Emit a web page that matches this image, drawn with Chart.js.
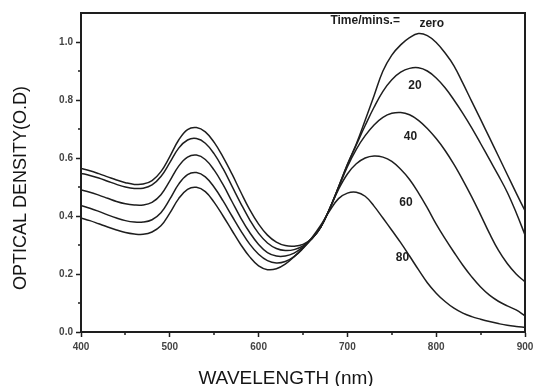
<!DOCTYPE html>
<html>
<head>
<meta charset="utf-8">
<script src="https://cdn.jsdelivr.net/npm/chart.js@4.4.1/dist/chart.umd.min.js"></script>
<style>
    html, body { margin: 0; padding: 0; background: #fff; }
</style>
</head>
<body>
<canvas id="graficoOD" width="535" height="386"></canvas>
<script>
// Longitudes de onda (nm)
var wavelengths = [400, 410, 420, 430, 440, 450, 460, 470, 480, 490,
                   500, 510, 520, 530, 540, 550, 560, 570, 580, 590,
                   600, 610, 620, 630, 640, 650, 660, 670, 680, 690,
                   700, 710, 720, 730, 740, 750, 760, 770, 780, 790,
                   800, 810, 820, 830, 840, 850, 860, 870, 880, 890, 900];

// Densidad óptica por tiempo (min)
var odZero = [0.564, 0.556, 0.546, 0.535, 0.524, 0.515, 0.509, 0.510, 0.522, 0.553,
              0.605, 0.662, 0.698, 0.705, 0.690, 0.654, 0.603, 0.545, 0.482, 0.422,
              0.372, 0.334, 0.310, 0.298, 0.296, 0.302, 0.322, 0.362, 0.425, 0.500,
              0.578, 0.648, 0.730, 0.815, 0.900, 0.955, 0.990, 1.015, 1.029, 1.022,
              0.998, 0.962, 0.918, 0.858, 0.795, 0.733, 0.670, 0.607, 0.543, 0.480, 0.418];
var od20 = [0.547, 0.540, 0.531, 0.520, 0.509, 0.500, 0.495, 0.496, 0.507, 0.536,
            0.584, 0.634, 0.662, 0.667, 0.651, 0.614, 0.563, 0.503, 0.443, 0.387,
            0.340, 0.307, 0.288, 0.281, 0.284, 0.297, 0.322, 0.362, 0.425, 0.500,
            0.577, 0.645, 0.712, 0.775, 0.830, 0.870, 0.896, 0.909, 0.911, 0.900,
            0.876, 0.842, 0.800, 0.754, 0.704, 0.650, 0.595, 0.540, 0.482, 0.412, 0.335];
var od40 = [0.490, 0.482, 0.472, 0.461, 0.450, 0.442, 0.438, 0.438, 0.447, 0.473,
            0.521, 0.572, 0.603, 0.610, 0.595, 0.558, 0.508, 0.450, 0.393, 0.343,
            0.302, 0.274, 0.262, 0.262, 0.272, 0.293, 0.322, 0.362, 0.425, 0.498,
            0.570, 0.630, 0.677, 0.714, 0.740, 0.754, 0.757, 0.749, 0.730, 0.702,
            0.667, 0.626, 0.578, 0.524, 0.466, 0.404, 0.340, 0.282, 0.236, 0.200, 0.173];
var od60 = [0.436, 0.427, 0.416, 0.404, 0.393, 0.384, 0.379, 0.379, 0.387, 0.411,
            0.458, 0.510, 0.543, 0.550, 0.535, 0.499, 0.452, 0.400, 0.349, 0.303,
            0.268, 0.246, 0.238, 0.243, 0.260, 0.288, 0.322, 0.362, 0.425, 0.492,
            0.545, 0.580, 0.600, 0.607, 0.603, 0.588, 0.561, 0.526, 0.480, 0.428,
            0.372, 0.322, 0.275, 0.230, 0.190, 0.155, 0.127, 0.106, 0.090, 0.076, 0.056];
var od80 = [0.393, 0.384, 0.373, 0.362, 0.352, 0.343, 0.338, 0.337, 0.345, 0.366,
            0.410, 0.460, 0.492, 0.499, 0.484, 0.447, 0.400, 0.350, 0.301, 0.259,
            0.228, 0.215, 0.218, 0.234, 0.260, 0.290, 0.325, 0.368, 0.418, 0.460,
            0.479, 0.482, 0.468, 0.434, 0.393, 0.351, 0.308, 0.262, 0.215, 0.170,
            0.134, 0.105, 0.082, 0.065, 0.053, 0.044, 0.036, 0.029, 0.023, 0.019, 0.016];

var seriesLabels = ["zero", "20", "40", "60", "80"];

// Marcas de los ejes
var xTicks = [400, 500, 600, 700, 800, 900];
var xMinorTicks = [450, 550, 650, 750, 850];
var yTicks = [0.0, 0.2, 0.4, 0.6, 0.8, 1.0];
var yMinorTicks = [0.1, 0.3, 0.5, 0.7, 0.9];

// Donde van las etiquetas de cada curva (en unidades de datos)
var labelWavelength = [795, 776, 771, 766, 762];
var labelOD = [1.063, 0.85, 0.675, 0.446, 0.256];

var FONT = '"Liberation Sans", Arial, sans-serif';
var INK = "#1e1e1e";

function toPoints(values) {
    return wavelengths.map(function (w, i) { return { x: w, y: values[i] }; });
}

var allSeries = [odZero, od20, od40, od60, od80];
var datasets = allSeries.map(function (vals, i) {
    return {
        label: seriesLabels[i],
        data: toPoints(vals),
        borderColor: INK,
        borderWidth: 1.5,
        pointRadius: 0,
        tension: 0.4,
        fill: false
    };
});

// Dibuja marco, marcas menores, etiquetas y títulos de ejes
var extras = {
    id: "extras",
    afterDraw: function (chart) {
        var ctx = chart.ctx;
        var a = chart.chartArea;
        var xs = chart.scales.x;
        var ys = chart.scales.y;
        ctx.save();

        // marco superior y derecho
        ctx.strokeStyle = INK;
        ctx.lineWidth = 2;
        ctx.beginPath();
        ctx.moveTo(a.left, a.top);
        ctx.lineTo(a.right, a.top);
        ctx.lineTo(a.right, a.bottom);
        ctx.stroke();

        // marcas menores
        ctx.lineWidth = 1.5;
        ctx.beginPath();
        xMinorTicks.forEach(function (v) {
            var px = Math.round(xs.getPixelForValue(v));
            ctx.moveTo(px, a.bottom);
            ctx.lineTo(px, a.bottom + 3);
        });
        yMinorTicks.forEach(function (v) {
            var py = Math.round(ys.getPixelForValue(v));
            ctx.moveTo(a.left, py);
            ctx.lineTo(a.left - 3, py);
        });
        ctx.stroke();

        // etiquetas de las curvas
        ctx.fillStyle = INK;
        ctx.textAlign = "center";
        ctx.textBaseline = "middle";
        ctx.font = "bold 12px " + FONT;
        ctx.fillText("Time/mins.=", xs.getPixelForValue(720), ys.getPixelForValue(1.072));
        seriesLabels.forEach(function (lab, i) {
            ctx.fillText(lab, xs.getPixelForValue(labelWavelength[i]), ys.getPixelForValue(labelOD[i]));
        });

        // títulos de ejes
        ctx.fillStyle = "#151515";
        ctx.font = "19px " + FONT;
        ctx.fillText("WAVELENGTH (nm)", 286, 379);

        ctx.translate(21, 188);
        ctx.rotate(-Math.PI / 2);
        ctx.font = "18px " + FONT;
        ctx.fillText("OPTICAL DENSITY(O.D)", 0, 0);
        ctx.restore();
    }
};

var ctx = document.getElementById("graficoOD").getContext("2d");
var myChart = new Chart(ctx, {
    type: "line",
    data: { datasets: datasets },
    options: {
        responsive: false,
        animation: false,
        devicePixelRatio: 1,
        layout: { padding: { top: 13, right: 10, left: 0, bottom: 0 } },
        plugins: {
            legend: { display: false },
            tooltip: { enabled: false }
        },
        scales: {
            x: {
                type: "linear",
                min: 400,
                max: 900,
                afterFit: function (s) {
                    s.height = 54;
                    s.paddingLeft = 0;
                    s.paddingRight = 0;
                },
                afterBuildTicks: function (s) {
                    s.ticks = xTicks.map(function (v) { return { value: v }; });
                },
                border: { color: INK, width: 2 },
                grid: { drawOnChartArea: false, tickLength: 5, tickColor: INK, tickWidth: 1.5 },
                ticks: {
                    autoSkip: false,
                    maxRotation: 0,
                    padding: 4,
                    color: "#444",
                    font: { family: FONT, size: 10, weight: "bold" },
                    callback: function (v) { return String(v); }
                }
            },
            y: {
                type: "linear",
                min: 0,
                max: 1.1,
                afterFit: function (s) {
                    s.width = 81;
                    s.paddingTop = 0;
                    s.paddingBottom = 0;
                },
                afterBuildTicks: function (s) {
                    s.ticks = yTicks.map(function (v) { return { value: v }; });
                },
                border: { color: INK, width: 2 },
                grid: { drawOnChartArea: false, tickLength: 5, tickColor: INK, tickWidth: 1.5 },
                ticks: {
                    padding: 3,
                    color: "#444",
                    font: { family: FONT, size: 10, weight: "bold" },
                    callback: function (v) { return Number(v).toFixed(1); }
                }
            }
        }
    },
    plugins: [extras]
});
</script>
</body>
</html>
